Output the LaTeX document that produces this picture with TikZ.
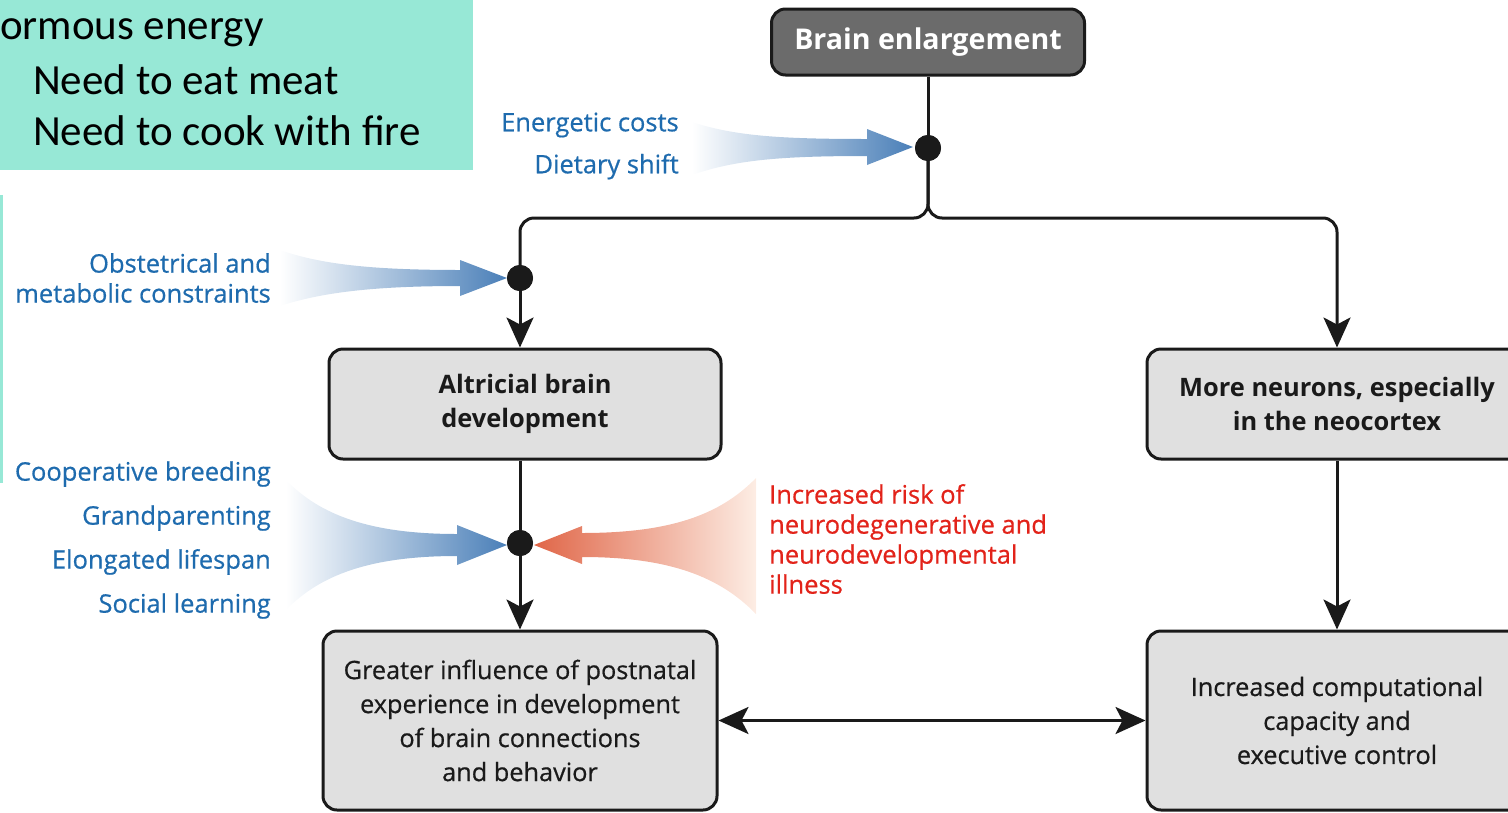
\documentclass[tikz,border=0pt]{standalone}
\usepackage{fontspec}
\setmainfont{Open Sans}
\newfontfamily\figfont{Open Sans}[FakeBold=0.6]
\newfontfamily\tealfont{Carlito}
\usetikzlibrary{arrows.meta}
\definecolor{tealbg}{HTML}{97E8D6}
\definecolor{boxgray}{HTML}{E0E0E0}
\definecolor{darkbox}{HTML}{6B6B6B}
\definecolor{labelblue}{HTML}{1E6BAE}
\definecolor{labelred}{HTML}{E2231A}
\definecolor{arrowblue}{HTML}{4A7FB8}
\definecolor{arrowred}{HTML}{E06648}
\definecolor{tailred}{HTML}{FDEDE4}
\definecolor{linecol}{HTML}{1A1A1A}
\begin{document}
\begin{tikzpicture}[x=1pt,y=-1pt,
  flowbox/.style={draw=linecol, line width=3pt, rounded corners=14pt, fill=boxgray,
    align=center, inner sep=0pt, text=linecol, font=\figfont\fontsize{25.3}{34}\selectfont},
  boldbox/.style={flowbox, font=\fontsize{25.4}{34}\selectfont\bfseries},
  conn/.style={draw=linecol, line width=3pt},
  tip/.style={-{Stealth[length=30pt,width=27pt,inset=7pt]}},
  tips/.style={{Stealth[length=30pt,width=27pt,inset=7pt]}-{Stealth[length=30pt,width=27pt,inset=7pt]}},
  dotst/.style={circle, fill=linecol, minimum size=26pt, inner sep=0pt},
  bluelbl/.style={text=labelblue, align=right, inner sep=0pt},
  redlbl/.style={text=labelred, align=left, inner sep=0pt, font=\figfont\fontsize{25.5}{30}\selectfont},
  tealtxt/.style={inner sep=0pt, anchor=base west, font=\tealfont\fontsize{43}{50}\selectfont, text=black}
]
\useasboundingbox (0,0) rectangle (1508,812);
\clip (0,0) rectangle (1508,812);

% teal slide fragments
\node[fill=tealbg, minimum width=473pt, minimum height=170pt, inner sep=0pt, anchor=north west] (teal) at (0,0) {};
\fill[tealbg] (0,195) rectangle (3,483);
\node[tealtxt] (t1) at (0,39) {ormous energy};
\node[tealtxt] (t2) at (33,94) {Need to eat meat};
\node[tealtxt] (t3) at (33,145) {Need to cook with fire};

% boxes
\node[flowbox, fill=darkbox, text=white, font=\fontsize{28.6}{34}\selectfont\bfseries,
  minimum width=313pt, minimum height=66pt] (brain) at (928,42) {Brain enlargement};
\node[boldbox, minimum width=392pt, minimum height=110pt] (alt) at (525,404) {Altricial brain\\development};
\node[boldbox, minimum width=380pt, minimum height=110pt] (neur) at (1337,404) {More neurons, especially\\in the neocortex};
\node[flowbox, minimum width=394pt, minimum height=179pt] (great) at (520,720.5) {Greater influence of postnatal\\experience in development\\of brain connections\\and behavior};
\node[flowbox, minimum width=380pt, minimum height=179pt] (incr) at (1337,720.5) {Increased computational\\capacity and\\executive control};

% junction dots
\node[dotst] (d1) at (928,148) {};
\node[dotst] (d2) at (520,278) {};
\node[dotst] (d3) at (520,543) {};
\coordinate (split) at (928,218);

% connectors
\draw[conn] (brain.south) -- (d1.center);
\draw[conn, rounded corners=14pt] (d1.center) -- (split) -| (d2.center);
\draw[conn, rounded corners=14pt, tip] (d1.center) -- (split) -| (neur.north);
\draw[conn, tip] (d2.center) -- (alt.north -| d2);
\draw[conn] (alt.south -| d3) -- (d3.center);
\draw[conn, tip] (d3.center) -- (great.north -| d3);
\draw[conn, tip] (neur.south) -- (incr.north);
\draw[conn, tips] (great.east) -- (incr.west);

% gradient influence arrows
\shade[left color=white, right color=arrowblue]
  (692,122) .. controls (735,136) and (780,139) .. (867,139) -- (867,129) -- (913,147)
  -- (867,165) -- (867,156) .. controls (780,156) and (735,160) .. (692,175) -- cycle;
\shade[left color=white, right color=arrowblue]
  (280,250) .. controls (320,264) and (370,270) .. (460,270) -- (460,260) -- (507,278)
  -- (460,296) -- (460,286) .. controls (370,286) and (320,293) .. (280,306) -- cycle;
\shade[left color=white, right color=arrowblue]
  (286,480) .. controls (320,515) and (370,534) .. (457,534) -- (457,525) -- (507,545)
  -- (457,565) -- (457,556) .. controls (370,556) and (320,575) .. (286,610) -- cycle;
\shade[left color=arrowred, right color=tailred]
  (756,478) .. controls (720,515) and (670,533) .. (582,533) -- (582,526) -- (534,545)
  -- (582,564) -- (582,557) .. controls (670,557) and (720,577) .. (756,614) -- cycle;
% redraw dots on top
\fill[linecol] (d1) circle (13pt);
\fill[linecol] (d2) circle (13pt);
\fill[linecol] (d3) circle (13pt);

% labels
\node[bluelbl, anchor=east, font=\figfont\fontsize{25.5}{42}\selectfont] (lab1) at (679,146) {Energetic costs\\Dietary shift};
\node[bluelbl, anchor=east, font=\figfont\fontsize{25.5}{30}\selectfont] (lab2) at (271,278) {Obstetrical and\\metabolic constraints};
\node[bluelbl, anchor=east, font=\figfont\fontsize{25.5}{44}\selectfont] (lab3) at (271,540) {Cooperative breeding\\Grandparenting\\Elongated lifespan\\Social learning};
\node[redlbl, anchor=west] (lab4) at (769,539) {Increased risk of\\neurodegenerative and\\neurodevelopmental\\illness};
\end{tikzpicture}
\end{document}
